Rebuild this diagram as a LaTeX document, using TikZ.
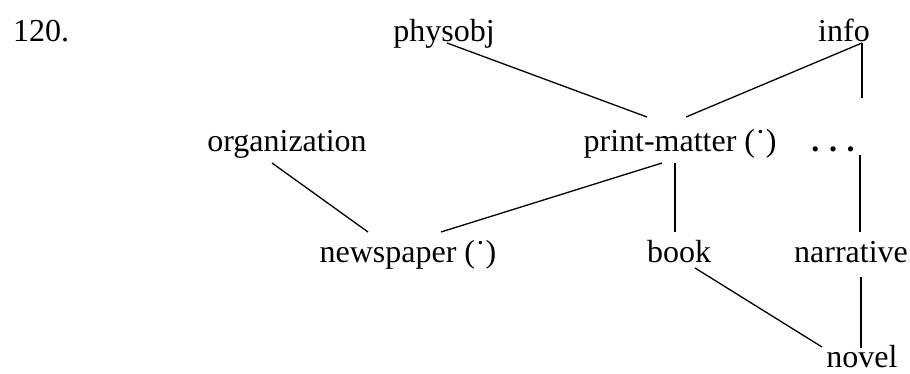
\documentclass[tikz,border=0pt]{standalone}
\usepackage{fontspec}
\setmainfont{Liberation Serif}
\begin{document}
\begin{tikzpicture}[x=1pt,y=-1pt,
  lbl/.style={inner sep=0pt,anchor=base,font=\fontsize{32}{38}\selectfont},
  edge/.style={line width=1.3pt}]
\useasboundingbox (0,0) rectangle (910,374);
% labels
\node[lbl,anchor=base west] (num) at (13,42) {120.};
\node[lbl] (physobj) at (444,42) {physobj};
\node[lbl] (info) at (844,42) {info};
\node[lbl] (org) at (287,152) {organization};
\node[lbl] (pm) at (680,152) {print-matter (˙)};
\node[lbl] (dots) at (833,152) {\textbf{.\hspace{0.3em}.\hspace{0.3em}.}};
\node[lbl] (news) at (408,262) {newspaper (˙)};
\node[lbl] (book) at (679,262) {book};
\node[lbl] (narr) at (851,262) {narrative};
\node[lbl] (novel) at (862,367) {novel};
% connector end points
\coordinate (physobjS) at (447,43);
\coordinate (infoS) at (862,43);
\coordinate (pmNW) at (647,117);
\coordinate (pmNE) at (686,117);
\coordinate (infoV) at (862,98);
\coordinate (orgS) at (272,163);
\coordinate (newsNW) at (368,232);
\coordinate (pmSW) at (662,163);
\coordinate (newsNE) at (441,232);
\coordinate (pmS) at (675,163);
\coordinate (bookN) at (675,232);
\coordinate (dotsS) at (860,155);
\coordinate (narrN) at (860,232);
\coordinate (bookS) at (695,268);
\coordinate (novelNW) at (822,347);
\coordinate (narrS) at (861,277);
\coordinate (novelN) at (861,348);
% connectors
\draw[edge] (physobjS) -- (pmNW);
\draw[edge] (infoS) -- (pmNE);
\draw[edge] (infoS) -- (infoV);
\draw[edge] (orgS) -- (newsNW);
\draw[edge] (pmSW) -- (newsNE);
\draw[edge] (pmS) -- (bookN);
\draw[edge] (dotsS) -- (narrN);
\draw[edge] (bookS) -- (novelNW);
\draw[edge] (narrS) -- (novelN);
\end{tikzpicture}
\end{document}
